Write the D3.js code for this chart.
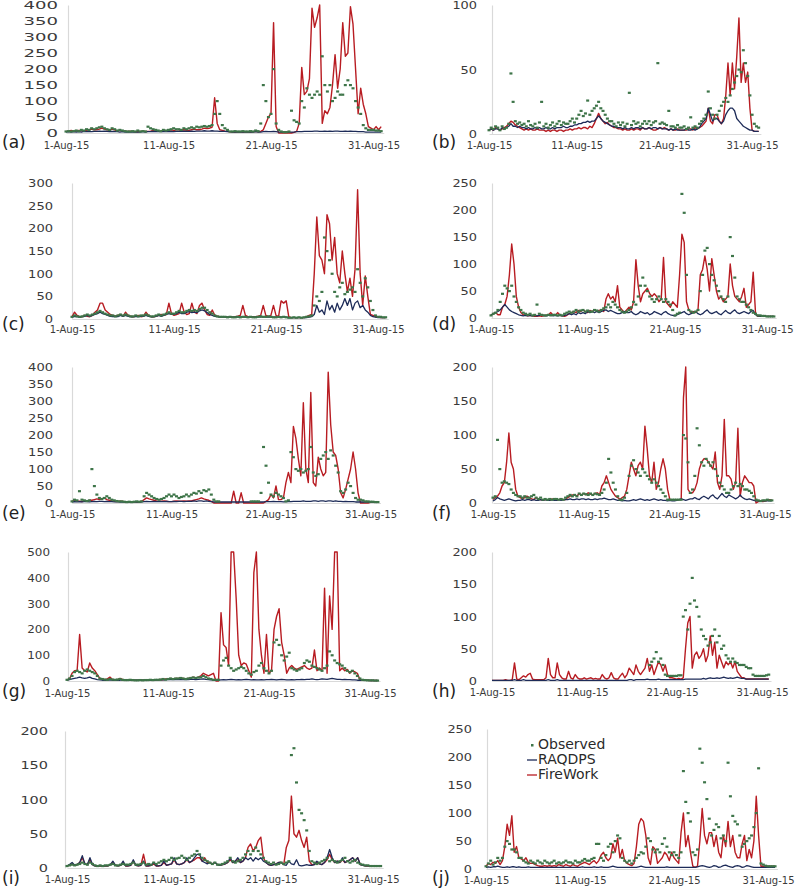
<!DOCTYPE html>
<html><head><meta charset="utf-8">
<script src="https://cdn.jsdelivr.net/npm/d3@7"></script>
<style>body{margin:0;background:#fff}svg{display:block}</style>
</head><body><svg id="chart" width="800" height="889"></svg>
<script>
const dateTicks=[0,10,20,30];
const dateLabels=["1-Aug-15","11-Aug-15","21-Aug-15","31-Aug-15"];
const panelTags=["(a)","(b)","(c)","(d)","(e)","(f)","(g)","(h)","(i)","(j)"];
const seriesNames=["Observed","RAQDPS","FireWork"];
const stepsPerDay=4; // values every 6 h, 1-31 Aug 2015

// ---------- (a) ----------
const obsA=[5,6,5,6, 8,6,10,8, 12,10,15,12, 15,18,20,15, 12,10,15,12, 8,10,8,6, 5,5,6,5, 8,5,6,5,
20,15,12,10, 8,6,10,8, 10,12,15,12, 12,10,15,12, 15,18,15,20, 18,20,22,20, 22,25,60,100, 60,25,15,10,
5,5,6,5, 5,6,5,5, 6,5,8,6, 30,150,100,50, 60,200,30,10, 5,3,3,5, 70,40,35,30, 100,80,140,120,
110,120,130,120, 240,150,130,150, 100,110,130,120, 120,150,165,150, 140,100,80,60, 25,15,10,10, 10,8,8,6];
const rdpA=[3,4,3,4, 3,4,3,5, 4,5,4,5, 5,6,5,6, 5,4,5,4, 4,3,4,3, 3,3,3,3, 3,3,4,3,
4,4,5,4, 4,4,5,4, 4,5,4,5, 5,5,6,5, 5,6,5,6, 6,6,7,6, 6,7,6,6, 5,5,5,4,
4,3,3,3, 3,3,3,3, 3,3,4,3, 3,4,5,4, 4,5,4,3, 3,3,3,3, 3,3,4,4, 4,5,5,5,
5,6,6,5, 5,6,5,6, 5,6,6,5, 5,6,5,6, 5,5,4,4, 4,3,3,3, 3,3,3,3];
const fwA=[5,5,8,6, 6,8,7,5, 8,10,12,10, 10,12,15,12, 10,8,12,10, 6,8,5,6, 5,6,5,4, 4,5,6,5,
5,6,8,6, 5,6,8,7, 8,10,8,6, 6,8,10,8, 8,10,12,10, 10,12,15,14, 15,18,110,30, 10,8,6,5,
4,3,3,3, 3,3,4,3, 3,4,5,4, 5,10,30,50, 60,345,20,0, 0,0,0,0, 0,2,5,30, 205,120,130,170,
390,330,360,400, 30,70,60,80, 150,245,140,200, 345,240,250,395, 340,200,60,140, 90,60,20,15, 10,20,10,20];

// ---------- (b) ----------
const obsB=[3,5,4,6, 5,3,6,4, 5,8,47,25, 10,8,9,7, 8,6,10,7, 6,8,5,9, 25,6,8,5, 7,9,6,8,
10,7,9,8, 8,10,12,9, 12,15,18,14, 16,26,15,18, 20,22,25,20, 18,15,12,10, 10,8,6,9, 7,9,6,8,
32,7,10,8, 9,6,8,10, 8,10,7,9, 10,55,8,9, 8,7,18,6, 6,5,7,5, 5,6,4,5, 13,5,6,5,
8,10,12,15, 33,20,15,12, 15,18,22,25, 28,25,30,35, 40,45,50,48, 65,55,45,30, 15,8,6,5];
const rdpB=[3,4,3,4, 4,3,5,4, 5,6,8,6, 6,5,6,5, 5,4,5,4, 4,5,4,5, 4,4,5,4, 4,5,4,5,
5,5,6,5, 5,6,6,7, 7,8,8,9, 9,10,9,10, 10,12,14,12, 10,9,8,7, 6,6,5,5, 5,4,5,4,
4,5,4,5, 5,4,5,4, 4,5,4,5, 5,4,5,4, 4,4,3,4, 3,4,3,3, 3,3,4,3, 3,4,3,4,
5,8,10,12, 20,15,10,12, 12,10,8,10, 15,18,20,20, 18,12,10,8, 6,5,4,3, 3,2,2,2];
const fwB=[3,4,3,5, 4,3,4,5, 6,8,10,9, 7,6,5,4, 3,4,3,4, 3,3,4,3, 3,3,2,3, 2,3,3,2,
3,3,2,3, 3,4,3,4, 4,5,4,5, 5,4,6,5, 8,12,16,12, 10,8,9,7, 6,5,5,4, 4,3,4,3,
3,4,3,4, 4,3,5,4, 4,5,4,3, 3,4,5,4, 5,4,3,4, 3,3,4,3, 3,3,3,4, 4,3,5,4,
5,6,8,10, 20,10,8,15, 15,10,8,12, 30,55,30,55, 35,60,90,40, 55,40,48,20, 3,2,2,2];

// ---------- (c) ----------
const obsC=[5,8,6,5, 6,8,10,8, 10,12,15,18, 15,12,10,8, 8,6,8,10, 8,10,8,6, 6,8,6,8, 8,10,8,6,
6,8,10,8, 10,12,15,12, 12,15,18,15, 15,18,20,18, 20,18,22,25, 25,20,15,12, 8,6,5,5, 5,4,5,4,
4,5,4,5, 5,4,5,4, 4,5,6,5, 5,6,5,4, 4,5,4,5, 4,3,3,4, 3,4,3,4, 5,6,8,30,
50,40,60,180, 150,130,100,60, 50,70,80,55, 60,65,70,60, 110,80,50,90, 70,40,20,8, 5,5,4,4];
const rdpC=[4,6,5,4, 5,6,8,6, 8,10,12,15, 12,10,8,6, 5,6,5,8, 6,8,6,5, 5,6,5,6, 6,8,6,5,
5,6,8,6, 8,10,12,10, 10,12,15,12, 12,15,16,14, 15,14,18,20, 18,14,10,8, 6,5,4,4, 4,4,4,4,
4,5,4,5, 4,4,4,4, 4,5,4,5, 4,4,4,4, 4,5,4,5, 4,3,3,3, 3,3,3,3, 3,4,5,10,
30,15,20,10, 40,20,30,15, 35,20,30,45, 30,45,20,35, 40,25,30,20, 15,8,5,4, 3,3,3,3];
const fwC=[5,15,8,5, 5,8,6,5, 8,15,20,35, 35,20,15,10, 8,6,8,10, 6,15,8,6, 5,6,8,5, 6,15,8,5,
5,6,8,10, 8,10,35,12, 8,10,12,35, 15,10,12,35, 15,12,30,35, 20,10,8,20, 8,6,5,5, 5,4,5,4,
5,6,8,30, 8,5,4,5, 5,6,8,30, 8,5,8,30, 8,5,40,35, 40,5,3,3, 3,3,3,3, 5,8,10,100,
225,140,130,100, 230,210,130,180, 100,80,150,100, 60,90,50,110, 285,100,30,95, 50,10,8,5, 5,3,3,3];

// ---------- (d) ----------
const obsD=[5,8,10,15, 30,45,60,55, 50,60,40,30, 20,15,10,8, 6,8,5,6, 25,8,6,5, 5,6,5,6, 6,5,6,5,
8,10,12,10, 12,15,12,14, 15,12,14,12, 12,15,14,12, 15,18,20,25, 20,30,25,20, 15,12,10,12, 15,20,30,25,
40,60,75,60, 50,40,35,30, 35,40,35,30, 35,30,25,15, 5,8,10,230, 195,80,15,12, 10,12,15,50, 80,125,130,100,
80,70,60,50, 40,35,30,40, 150,115,75,40, 35,30,30,25, 20,15,10,8, 5,5,4,4, 3,3,3,3];
const rdpD=[5,8,10,12, 15,20,25,20, 15,12,10,8, 6,5,4,5, 4,5,4,5, 4,5,6,5, 4,5,6,4, 5,4,5,4,
5,6,8,6, 8,6,10,8, 10,8,12,10, 12,10,12,10, 12,14,15,12, 14,12,10,8, 8,10,12,10, 10,12,8,6,
8,12,10,8, 10,6,8,12, 10,8,6,10, 12,8,6,5, 4,6,8,10, 12,8,6,8, 10,12,8,6, 8,12,15,10,
8,10,12,8, 6,10,14,10, 8,12,15,10, 8,10,12,10, 8,12,14,6, 4,3,3,3, 3,3,3,3];
const fwD=[5,8,10,6, 6,20,25,40, 80,137,100,40, 20,10,6,5, 4,5,4,3, 3,4,3,4, 5,6,10,5, 5,10,5,4,
3,5,8,10, 12,10,14,12, 15,12,10,14, 12,15,12,14, 15,12,35,45, 35,40,30,60, 20,15,10,15, 20,15,30,108,
60,30,45,50, 55,45,40,45, 40,30,35,112, 30,25,20,30, 25,20,80,155, 140,30,15,10, 12,10,15,80, 90,115,90,50,
110,80,50,35, 40,30,35,40, 100,60,40,35, 30,40,55,20, 25,30,85,10, 3,3,3,3, 3,3,3,3];

// ---------- (e) ----------
const obsE=[5,10,8,35, 10,8,6,8, 100,50,25,15, 12,15,20,15, 10,8,6,5, 5,4,3,4, 3,4,5,4, 5,20,30,25,
20,15,12,10, 12,15,20,25, 20,25,20,15, 18,20,25,20, 25,30,28,35, 30,38,35,40, 25,10,5,5, null,null,null,null,
null,null,null,null, null,null,null,null, 5,5,5,5, 30,165,110,60, 25,20,30,25, 20,15,5,8, 150,135,100,95, 100,90,95,100,
165,90,80,85, 130,140,150,130, 155,140,110,90, 35,30,40,60, 50,30,15,10, 10,8,5,5, 4,4,3,3];
const rdpE=[3,4,3,4, 3,4,4,3, 4,5,4,5, 5,4,5,4, 4,3,4,3, 3,3,3,3, 3,3,3,3, 3,4,5,4,
4,5,4,4, 4,4,5,4, 4,5,4,5, 5,4,5,5, 5,6,5,6, 6,5,6,5, 4,3,3,3, 3,3,3,3,
3,3,3,3, 3,3,3,3, 3,3,3,3, 3,3,4,4, 4,5,4,4, 4,3,4,4, 4,5,5,5, 5,6,5,5,
5,6,6,5, 6,6,5,6, 6,5,6,5, 5,4,5,4, 4,4,3,3, 3,3,3,3, 3,3,3,3];
const fwE=[5,8,6,5, 4,6,5,8, 8,10,12,10, 12,15,10,8, 6,5,4,5, 5,4,3,4, 3,4,3,3, 5,10,15,12,
10,8,6,5, 5,6,5,4, 4,5,6,5, 5,6,5,6, 6,8,10,12, 15,12,10,8, 5,0,0,0, 0,0,0,0,
0,35,0,0, 30,0,0,0, 0,0,0,0, 0,0,5,10, 25,15,50,10, 10,15,60,90, 60,225,190,130, 80,295,100,60,
325,60,50,135, 100,80,90,385, 230,150,140,100, 30,15,40,70, 100,150,100,30, 0,0,0,0, 2,3,4,2];

// ---------- (f) ----------
const obsF=[8,10,93,50, 30,32,30,28, 20,15,12,10, 10,8,10,8, 8,10,12,8, 6,8,5,6, 5,6,5,6, 6,5,6,5,
8,10,12,10, 12,10,14,12, 14,13,12,14, 12,14,13,12, 15,20,30,65, 45,30,20,10, 5,5,8,15, 40,55,63,50,
45,40,50,45, 40,35,30,35, 30,25,20,15, 10,5,5,5, 5,5,5,5, 100,95,60,15, 20,40,110,85, 60,55,65,60,
55,60,50,40, 30,25,20,15, 15,20,25,30, 25,28,25,20, 20,18,15,10, 5,4,3,4, 4,5,4,4];
const rdpF=[3,5,8,6, 5,4,5,6, 5,4,3,4, 4,5,4,5, 5,4,5,4, 4,5,4,5, 4,4,5,4, 4,5,4,5,
5,5,6,5, 5,6,5,6, 6,5,6,5, 5,6,5,6, 6,7,6,5, 5,6,5,4, 4,3,4,3, 3,4,5,4,
5,6,5,4, 5,4,5,6, 5,4,5,4, 4,3,4,3, 3,4,5,6, 5,4,5,6, 6,8,6,5, 8,10,8,6,
10,12,8,6, 10,14,10,8, 12,10,8,6, 8,12,8,6, 5,6,5,4, 3,3,3,3, 3,3,3,3];
const fwF=[5,8,10,15, 25,30,60,103, 60,50,20,10, 8,6,8,10, 8,6,5,8, 6,5,4,5, 5,4,6,5, 4,5,6,5,
5,8,10,12, 12,10,14,12, 14,12,15,13, 12,14,15,12, 25,30,40,30, 20,15,10,8, 5,8,10,20, 40,60,50,40,
55,60,50,113, 80,40,30,60, 20,30,50,65, 50,20,5,5, 5,4,5,5, 155,200,20,15, 15,20,30,50, 60,65,65,60,
55,50,75,30, 20,40,123,40, 40,35,20,30, 110,10,30,40, 35,30,30,25, 0,2,3,2, 3,4,5,4];

// ---------- (g) ----------
const obsG=[5,10,20,35, 40,35,30,40, 45,40,35,30, 20,10,8,6, 5,8,6,5, 6,8,5,4, 4,5,4,3, 3,4,3,4,
4,5,4,5, 5,6,8,6, 8,10,8,10, 10,12,10,8, 10,12,14,12, 14,15,20,15, 10,8,5,5, 5,60,80,90,
60,50,40,45, 50,55,50,40, 30,25,35,40, 60,70,50,40, 30,40,150,160, 140,100,80,95, 110,50,45,40, 45,50,70,80,
75,60,55,50, 45,40,50,60, 115,100,80,70, 65,60,50,40, 35,40,30,20, 10,5,4,3, 3,3,2,2];
const rdpG=[3,5,8,10, 12,15,12,10, 12,15,10,8, 5,4,3,3, 3,4,3,3, 3,3,4,3, 3,3,3,3, 3,3,3,3,
3,3,3,4, 4,4,5,4, 5,5,6,5, 6,5,6,5, 5,6,6,5, 6,7,8,6, 5,4,3,3, 3,4,5,4,
5,6,5,4, 5,4,5,6, 5,4,5,4, 4,5,4,5, 5,6,5,4, 5,6,5,4, 4,5,4,5, 5,6,5,6,
6,8,6,5, 6,8,7,6, 8,10,8,6, 6,5,6,5, 5,4,4,3, 3,3,3,3, 2,2,2,2];
const fwG=[5,8,30,40, 40,180,50,40, 35,70,50,40, 25,10,8,5, 8,15,6,5, 5,10,6,5, 4,5,4,3, 3,4,3,4,
3,4,5,4, 5,6,5,8, 8,10,8,10, 10,12,10,8, 10,12,15,12, 15,20,30,25, 20,25,30,0, 0,265,140,130,
60,500,500,320, 100,60,70,65, 40,15,420,500, 200,100,30,180, 30,40,200,250, 280,150,100,30, 50,60,50,45, 50,55,60,50,
45,50,120,40, 50,40,360,30, 330,200,500,500, 40,50,40,45, 30,40,35,30, 5,3,3,3, 2,2,2,2];

// ---------- (h) ----------
const obsH=[null,null,null,null, null,null,null,null, null,null,null,null, null,null,null,null, null,null,null,null, null,null,null,null, null,null,null,null, null,null,null,null,
null,null,null,null, null,null,null,null, null,null,null,null, null,null,null,null, null,null,null,null, null,null,null,null, null,null,null,null, null,null,null,null,
null,null,null,null, null,null,25,30, 35,45,30,35, 25,10,8,8, 8,8,8,9, 9,100,110,80, 120,160,125,115, 100,80,70,65,
55,60,70,80, 60,70,50,55, 40,35,30,35, 30,28,25,25, 25,22,20,20, 10,8,8,8, 8,8,9,10];
const rdpH=[1,1,1,1, 1,1,1,1, 1,1,2,1, 1,1,2,1, 1,1,1,1, 1,1,1,1, 1,2,1,1, 1,2,1,1,
1,1,1,1, 1,1,1,1, 1,1,1,1, 1,1,1,1, 1,1,1,1, 1,1,1,1, 1,1,1,1, 1,2,2,1,
2,2,2,2, 2,3,2,2, 2,2,3,2, 2,2,2,2, 2,2,2,2, 2,2,3,3, 3,3,3,3, 3,3,4,3,
4,5,4,4, 5,4,5,6, 5,4,5,4, 5,6,5,4, 4,3,3,3, 3,3,3,3, 3,3,3,3];
const fwH=[1,1,1,1, 1,1,2,1, 1,2,28,3, 2,5,8,6, 10,12,3,2, 2,2,2,2, 5,35,10,5, 5,28,10,5,
3,3,15,5, 3,10,5,3, 3,5,3,4, 5,3,4,3, 3,10,5,3, 5,13,5,3, 3,8,12,5, 10,20,15,10,
25,15,10,15, 20,35,15,25, 10,20,30,25, 15,25,10,5, 5,4,3,4, 3,5,50,90, 100,20,40,45, 35,40,50,30,
40,70,40,60, 20,40,30,20, 30,25,30,20, 30,15,10,5, 5,3,3,3, 3,3,3,3, 3,3,3,3];

// ---------- (i) ----------
const obsI=[3,4,5,4, 5,6,8,6, 5,8,6,4, 3,4,3,4, 4,5,6,4, 4,5,6,5, 5,6,8,5, 5,6,8,5,
6,5,8,6, 8,10,12,10, 12,15,12,14, 15,18,15,12, 15,18,20,25, 20,15,12,10, 8,6,8,5, 5,6,8,10,
15,10,8,10, 12,15,20,25, 20,25,30,25, 20,15,10,8, 6,8,5,6, 8,6,8,10, 165,175,125,85, 80,70,55,25,
10,8,6,8, 10,12,15,10, 12,10,8,10, 12,15,10,8, 10,12,8,6, 5,4,4,3, 3,3,3,3];
const rdpI=[3,5,8,4, 5,8,18,6, 5,15,5,3, 3,3,3,3, 3,5,10,4, 3,4,10,3, 3,4,12,4, 3,4,10,3,
3,4,8,3, 3,4,10,4, 5,6,15,6, 5,6,8,15, 8,10,15,20, 20,10,8,6, 8,6,8,5, 4,5,6,8,
15,8,10,15, 8,10,15,12, 15,10,15,12, 15,10,8,5, 4,5,6,8, 8,5,4,10, 6,5,12,4, 3,4,5,4,
4,5,10,6, 5,8,15,27, 15,8,10,8, 15,8,10,12, 15,10,15,5, 4,3,3,3, 3,3,3,3];
const fwI=[3,4,6,4, 5,8,15,6, 5,12,5,3, 3,3,3,3, 3,5,8,4, 3,4,8,3, 3,4,10,4, 3,4,20,3,
3,4,6,3, 3,4,8,4, 5,6,12,6, 5,6,8,12, 8,10,12,15, 15,10,15,8, 8,6,8,5, 4,5,6,8,
12,8,10,12, 8,10,15,30, 35,25,30,40, 45,15,8,5, 4,5,6,8, 8,5,30,40, 105,50,45,55, 40,30,45,10,
5,5,8,6, 5,8,12,20, 12,8,10,8, 12,8,10,12, 15,10,15,5, 4,3,3,3, 3,3,3,3];

// ---------- (j) ----------
const obsJ=[5,10,15,8, 12,20,15,20, 40,50,45,35, 35,30,20,20, 15,12,10,15, 12,10,15,12, 10,15,12,10, 12,15,10,12,
10,12,15,12, 12,10,15,12, 12,15,18,15, 15,18,20,45, 45,20,15,25, 40,45,30,50, 60,55,20,15, 12,15,10,15,
20,25,30,28, 40,55,50,35, 30,35,30,45, 55,40,30,25, 30,25,20,30, 175,120,100,85, 30,25,35,215, 190,155,125,90,
60,70,80,75, 55,60,50,190, 130,95,85,80, 60,40,45,50, 55,60,75,100, 180,10,8,6, 5,5,5,5];
const rdpJ=[3,4,3,4, 4,5,4,3, 3,4,3,4, 4,3,4,3, 3,3,4,3, 3,3,3,3, 3,3,3,3, 3,3,3,3,
3,3,3,3, 3,3,3,3, 3,4,3,3, 3,3,4,3, 3,4,3,3, 3,4,5,4, 3,3,3,3, 3,3,3,3,
3,4,5,4, 3,3,3,3, 3,3,3,3, 3,4,3,3, 3,3,3,3, 3,3,3,3, 3,3,4,5, 6,5,4,3,
4,6,5,3, 4,6,7,5, 4,3,5,6, 5,3,4,6, 5,4,3,3, 3,3,3,3, 3,3,3,3];
const fwJ=[5,10,8,12, 10,15,8,15, 40,80,60,95, 30,40,20,18, 15,20,12,10, 10,8,6,5, 5,6,5,6, 5,6,5,8,
6,5,8,6, 5,8,6,5, 8,10,12,10, 8,12,15,10, 15,25,30,20, 15,20,45,30, 55,20,35,15, 10,8,6,10,
40,80,90,85, 60,20,8,40, 35,10,15,20, 30,25,15,30, 20,15,10,65, 100,40,60,30, 5,3,5,50, 108,60,45,65,
65,40,60,30, 20,60,40,85, 40,60,30,20, 20,45,60,15, 35,20,50,130, 60,5,5,5, 5,5,5,5];

const yMaxes=[400,100,300,250,400,200,500,200,200,250];

// ---------- layout (pixels) ----------
const layout=[
 {obs:obsA,rdp:rdpA,fw:fwA,step:50, axisX:68, x0:66, ppd:10.25,y0:133,yT:5,  yLabR:58, cw:11.5,xLabY:149,tagX:2,  tagY:148},
 {obs:obsB,rdp:rdpB,fw:fwB,step:50, axisX:492,x0:489,ppd:8.77, y0:134,yT:5,  yLabR:477,cw:8.2, xLabY:149,tagX:432,tagY:148},
 {obs:obsC,rdp:rdpC,fw:fwC,step:50, axisX:72, x0:72, ppd:10.2, y0:319,yT:183,yLabR:53, cw:8.3, xLabY:333,tagX:2,  tagY:330},
 {obs:obsD,rdp:rdpD,fw:fwD,step:50, axisX:492,x0:491,ppd:9.2,  y0:318,yT:183,yLabR:477,cw:8.2, xLabY:333,tagX:432,tagY:330},
 {obs:obsE,rdp:rdpE,fw:fwE,step:50, axisX:72, x0:72, ppd:9.95, y0:503,yT:367,yLabR:53, cw:8.3, xLabY:518,tagX:2,  tagY:519},
 {obs:obsF,rdp:rdpF,fw:fwF,step:50, axisX:492,x0:493,ppd:9.07, y0:503,yT:367,yLabR:477,cw:8.2, xLabY:518,tagX:432,tagY:519},
 {obs:obsG,rdp:rdpG,fw:fwG,step:100,axisX:68, x0:67, ppd:10.1, y0:681,yT:552,yLabR:50, cw:7.6, xLabY:697,tagX:2,  tagY:697},
 {obs:obsH,rdp:rdpH,fw:fwH,step:50, axisX:492,x0:492,ppd:9.0,  y0:681,yT:552,yLabR:477,cw:8.2, xLabY:696,tagX:432,tagY:697},
 {obs:obsI,rdp:rdpI,fw:fwI,step:50, axisX:65, x0:67, ppd:10.2, y0:868,yT:731,yLabR:48, cw:9.2, xLabY:883,tagX:2,  tagY:884},
 {obs:obsJ,rdp:rdpJ,fw:fwJ,step:50, axisX:487,x0:486,ppd:9.4,  y0:869,yT:729,yLabR:472,cw:8.2, xLabY:884,tagX:432,tagY:884}
];

const colObs="#3e7549", colRdp="#1d2b58", colFw="#b81c22";
const svg=d3.select("#chart");

layout.forEach((p,k)=>{
  [p.obs,p.rdp,p.fw].forEach((a,j)=>{ if(a.length!==124) throw new Error(panelTags[k]+" series "+j+" length "+a.length); });
  const yMax=yMaxes[k];
  const x=d3.scaleLinear().domain([0,31]).range([p.x0,p.x0+31*p.ppd]);
  const y=d3.scaleLinear().domain([0,yMax]).range([p.y0,p.yT]);
  const g=svg.append("g");

  // y axis
  const ya=g.append("g").attr("transform",`translate(${p.axisX},0)`)
    .call(d3.axisLeft(y).tickValues(d3.range(0,yMax+1,p.step)).tickSize(0).tickSizeOuter(0).tickPadding(p.axisX-p.yLabR));
  ya.select(".domain").attr("stroke","#d9d9d9").attr("stroke-width",1.2);
  ya.selectAll("text").attr("font-family","DejaVu Sans, sans-serif").attr("font-size",11).attr("fill","#3a3a3a")
    .attr("textLength",d=>String(d).length*p.cw).attr("lengthAdjust","spacingAndGlyphs");

  // x axis
  const xa=g.append("g").attr("transform",`translate(0,${p.y0})`)
    .call(d3.axisBottom(x).tickValues(dateTicks).tickFormat((d,i)=>dateLabels[i]).tickSize(0).tickSizeOuter(0));
  xa.select(".domain").attr("stroke","#d9d9d9").attr("stroke-width",1);
  xa.selectAll("text").attr("font-family","DejaVu Sans, sans-serif").attr("font-size",10).attr("fill","#3a3a3a")
    .attr("dy",null).attr("y",p.xLabY-p.y0);

  const t=i=>i/stepsPerDay;
  const lineGen=d3.line().defined(v=>v!==null).x((v,i)=>x(t(i))).y(v=>y(Math.min(v,yMax)));

  g.append("path").datum(p.fw).attr("d",lineGen).attr("fill","none").attr("stroke",colFw).attr("stroke-width",1.4).attr("stroke-linejoin","round");
  g.append("path").datum(p.rdp).attr("d",lineGen).attr("fill","none").attr("stroke",colRdp).attr("stroke-width",1.3).attr("stroke-linejoin","round");

  const pts=p.obs.map((v,i)=>({d:t(i),v})).filter(o=>o.v!==null);
  g.selectAll("rect.obs").data(pts).enter().append("rect").attr("class","obs")
    .attr("x",o=>x(o.d)-1.5).attr("y",o=>y(Math.min(o.v,yMax))-1)
    .attr("width",3).attr("height",2.2).attr("fill",colObs);

  g.append("text").attr("x",p.tagX).attr("y",p.tagY).text(panelTags[k])
    .attr("font-family","DejaVu Sans, sans-serif").attr("font-size",17).attr("fill","#222");

  if(k===9){
    const lg=g.append("g");
    const items=[{n:seriesNames[0],type:"dot",c:colObs},{n:seriesNames[1],type:"line",c:colRdp},{n:seriesNames[2],type:"line",c:colFw}];
    items.forEach((it,j)=>{
      const by=749+j*15;
      if(it.type==="dot") lg.append("rect").attr("x",531).attr("y",by-5).attr("width",2.5).attr("height",2.5).attr("fill",it.c);
      else lg.append("line").attr("x1",527).attr("x2",537).attr("y1",by-4).attr("y2",by-4).attr("stroke",it.c).attr("stroke-width",1.3);
      lg.append("text").attr("x",538).attr("y",by).text(it.n)
        .attr("font-family","DejaVu Sans, sans-serif").attr("font-size",14).attr("fill","#2a2a2a");
    });
  }
});
</script></body></html>
